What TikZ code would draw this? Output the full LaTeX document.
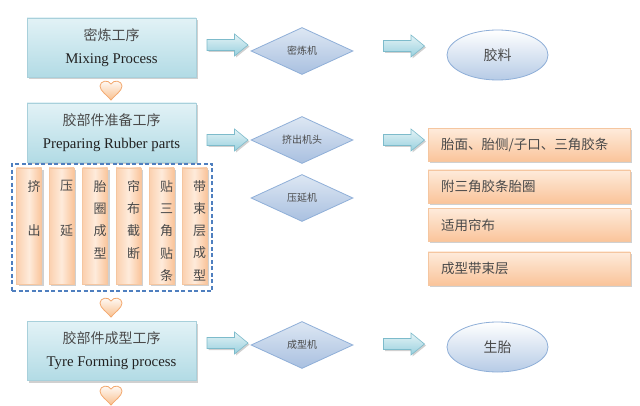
\documentclass[tikz,border=0pt]{standalone}
\usepackage{fontspec}
\setmainfont{Liberation Serif}
\newfontfamily\cjk{Noto Sans CJK SC}
\usetikzlibrary{shapes.geometric,shadows}
\definecolor{boxtop}{HTML}{E2F2F6}
\definecolor{boxbot}{HTML}{B2DBE5}
\definecolor{boxedge}{HTML}{A8D0DB}
\definecolor{dtop}{HTML}{DDE7F3}
\definecolor{dbot}{HTML}{A9C0E0}
\definecolor{dedge}{HTML}{8FAFD8}
\definecolor{etop}{HTML}{FFFFFF}
\definecolor{ebot}{HTML}{B6CBE6}
\definecolor{otop}{HTML}{FEEBDB}
\definecolor{obot}{HTML}{FAC49A}
\definecolor{oedge}{HTML}{F5C6A0}
\definecolor{atop}{HTML}{E4F3F6}
\definecolor{abot}{HTML}{98D0DE}
\definecolor{aedge}{HTML}{7DBBCB}
\definecolor{htop}{HTML}{FFFFFF}
\definecolor{hbot}{HTML}{F9C08E}
\definecolor{hedge}{HTML}{F3A86E}
\definecolor{dashblue}{HTML}{4F7FBF}
\definecolor{txt}{HTML}{4A4A4A}
\definecolor{entxt}{HTML}{222222}
\begin{document}
\begin{tikzpicture}[x=1pt,y=-1pt,
  shad/.style={drop shadow={shadow xshift=2pt,shadow yshift=-2pt,opacity=0.3,fill=black!60}},
  procbox/.style={draw=boxedge,line width=0.6pt,top color=boxtop,bottom color=boxbot,
    minimum width=169pt,minimum height=59pt,inner sep=0pt,align=center,text=entxt,
    font=\fontsize{14.8}{23}\selectfont,shad},
  machine/.style={diamond,draw=dedge,line width=0.8pt,top color=dtop,bottom color=dbot,
    minimum width=102pt,minimum height=47pt,aspect=2.17,inner sep=0pt,text=txt,
    font=\cjk\fontsize{10}{12}\selectfont},
  product/.style={ellipse,draw=dedge,line width=0.8pt,top color=etop,bottom color=ebot,
    minimum width=101pt,minimum height=50pt,inner sep=0pt,text=txt,
    font=\cjk\fontsize{14}{16}\selectfont},
  partbox/.style={draw=oedge,line width=0.5pt,top color=otop,bottom color=obot,
    minimum width=202pt,minimum height=33pt,inner sep=0pt,shad},
  parttext/.style={anchor=west,text=txt,font=\cjk\fontsize{13.5}{16}\selectfont,inner sep=0pt},
  vbox/.style={draw=oedge,line width=0.5pt,left color=obot!80,right color=obot,middle color=otop,
    minimum width=25pt,minimum height=116pt,inner sep=0pt,shad},
  vtext/.style={anchor=north,align=center,text=txt,font=\cjk\fontsize{13}{22.3}\selectfont,inner sep=0pt},
  blockarrow/.pic={\path[draw=aedge,line width=0.6pt,top color=atop,bottom color=abot,
      drop shadow={shadow xshift=1.5pt,shadow yshift=-1.5pt,opacity=0.3,fill=black!60}]
      (-20.5,-5.5) -- (7,-5.5) -- (7,-11) -- (20.5,0) -- (7,11) -- (7,5.5) -- (-20.5,5.5) -- cycle;},
  heart/.pic={\path[draw=hedge,line width=0.8pt,top color=htop,bottom color=hbot]
      (0,10) .. controls (-4,5) and (-11,1) .. (-11,-4)
      .. controls (-11,-9) and (-3,-11) .. (0,-6)
      .. controls (3,-11) and (11,-9) .. (11,-4)
      .. controls (11,1) and (4,5) .. (0,10) -- cycle;}
]
\useasboundingbox[fill=white] (0,0) rectangle (640,406);

% main process boxes
\node[procbox] (p1) at (111.5,47.5) {{\cjk\color{txt}\fontsize{14}{23}\selectfont 密炼工序}\\Mixing Process};
\node[procbox] (p2) at (111.5,132.5) {{\cjk\color{txt}\fontsize{14}{23}\selectfont 胶部件准备工序}\\Preparing Rubber parts};
\node[procbox] (p3) at (111.5,351) {{\cjk\color{txt}\fontsize{14}{23}\selectfont 胶部件成型工序}\\Tyre Forming process};

% hearts
\pic at (111,90) {heart};
\pic at (111,307) {heart};
\pic at (111,395) {heart};

% dashed group
\node[draw=dashblue,dashed,line width=1.3pt,dash pattern=on 4pt off 2.5pt,
  minimum width=200pt,minimum height=127pt,inner sep=0pt] (grp) at (112,227.5) {};

% vertical boxes
\foreach \n/\x/\t in {v1/29/{挤\\[22.3pt]出},v2/61.5/{压\\[22.3pt]延},v3/95/{胎\\圈\\成\\型},
  v4/128.5/{帘\\布\\截\\断},v5/161.5/{贴\\三\\角\\贴\\条},v6/194.5/{带\\束\\层\\成\\型}}{
  \node[vbox] (\n) at (\x,226) {};
  \node[vtext] at (\x+5,180) {\t};
}

% block arrows
\pic at (227.5,45) {blockarrow};
\pic at (227.5,140) {blockarrow};
\pic at (227.5,343) {blockarrow};
\pic at (404,46) {blockarrow};
\pic at (404,140) {blockarrow};
\pic at (404,344) {blockarrow};

% machines
\node[machine] (m1) at (302,51) {密炼机};
\node[machine] (m2) at (302,140) {挤出机头};
\node[machine] (m3) at (302,198) {压延机};
\node[machine] (m4) at (302,345) {成型机};

% products
\node[product] (e1) at (497.5,55) {胶料};
\node[product] (e2) at (497.5,347) {生胎};

% part boxes
\node[partbox] (b1) at (529,145) {};
\node[partbox] (b2) at (529,186.5) {};
\node[partbox] (b3) at (529,225) {};
\node[partbox] (b4) at (529,268.5) {};
\node[parttext] at (441,145) {胎面、胎侧/子口、三角胶条};
\node[parttext] at (441,186.5) {附三角胶条胎圈};
\node[parttext] at (441,225) {适用帘布};
\node[parttext] at (441,268.5) {成型带束层};
\end{tikzpicture}
\end{document}
